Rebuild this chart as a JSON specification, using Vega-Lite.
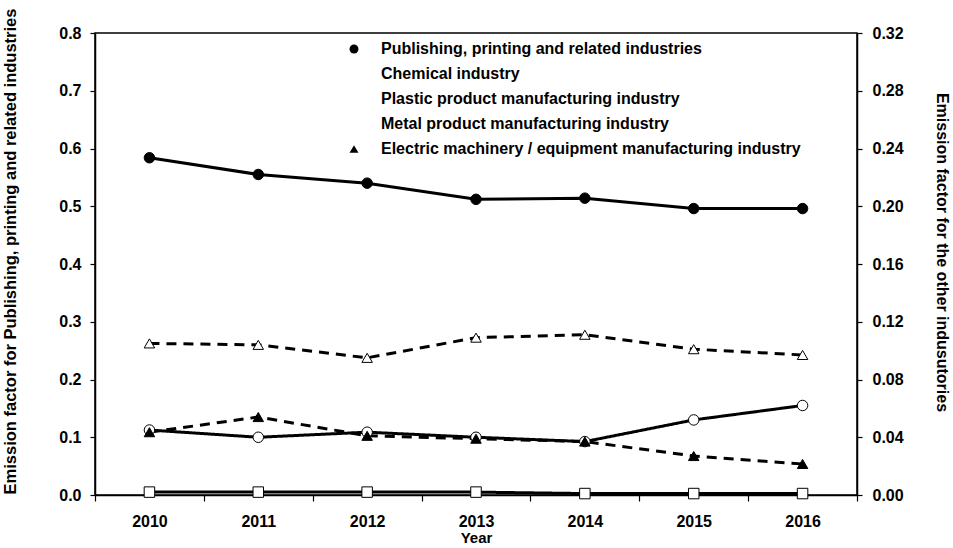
{
  "$schema": "https://vega.github.io/schema/vega-lite/v6.json",
  "width": 762,
  "height": 462,
  "autosize": "none",
  "padding": {"left": 95, "top": 33, "right": 96, "bottom": 53},
  "config": {
    "font": "Liberation Sans",
    "view": {"stroke": "black", "strokeWidth": 1.5},
    "axis": {
      "grid": false,
      "domainColor": "black",
      "domainWidth": 1.5,
      "tickColor": "black",
      "tickWidth": 1.2,
      "tickSize": 5,
      "labelFontSize": 16,
      "labelFontWeight": "bold",
      "labelColor": "black",
      "titleFontSize": 16,
      "titleFontWeight": "bold",
      "titleColor": "black",
      "labelOverlap": false
    },
    "legend": {
      "orient": "top-left",
      "offset": 8,
      "labelFontSize": 16,
      "labelFontWeight": "bold",
      "labelColor": "black",
      "labelLimit": 700,
      "symbolSize": 80,
      "symbolStrokeColor": "black",
      "symbolStrokeWidth": 1.5,
      "rowPadding": 9,
      "symbolOffset": 243,
      "labelOffset": 19,
      "padding": 0
    }
  },
  "data": {
    "values": [
      {"year": "2010", "series": "Publishing, printing and related industries", "value": 0.584},
      {"year": "2011", "series": "Publishing, printing and related industries", "value": 0.555},
      {"year": "2012", "series": "Publishing, printing and related industries", "value": 0.540},
      {"year": "2013", "series": "Publishing, printing and related industries", "value": 0.512},
      {"year": "2014", "series": "Publishing, printing and related industries", "value": 0.514},
      {"year": "2015", "series": "Publishing, printing and related industries", "value": 0.496},
      {"year": "2016", "series": "Publishing, printing and related industries", "value": 0.496},
      {"year": "2010", "series": "Chemical industry", "value": 0.002},
      {"year": "2011", "series": "Chemical industry", "value": 0.002},
      {"year": "2012", "series": "Chemical industry", "value": 0.002},
      {"year": "2013", "series": "Chemical industry", "value": 0.002},
      {"year": "2014", "series": "Chemical industry", "value": 0.001},
      {"year": "2015", "series": "Chemical industry", "value": 0.001},
      {"year": "2016", "series": "Chemical industry", "value": 0.001},
      {"year": "2010", "series": "Plastic product manufacturing industry", "value": 0.045},
      {"year": "2011", "series": "Plastic product manufacturing industry", "value": 0.040},
      {"year": "2012", "series": "Plastic product manufacturing industry", "value": 0.0435},
      {"year": "2013", "series": "Plastic product manufacturing industry", "value": 0.040},
      {"year": "2014", "series": "Plastic product manufacturing industry", "value": 0.037},
      {"year": "2015", "series": "Plastic product manufacturing industry", "value": 0.052},
      {"year": "2016", "series": "Plastic product manufacturing industry", "value": 0.062},
      {"year": "2010", "series": "Metal product manufacturing industry", "value": 0.105},
      {"year": "2011", "series": "Metal product manufacturing industry", "value": 0.104},
      {"year": "2012", "series": "Metal product manufacturing industry", "value": 0.095},
      {"year": "2013", "series": "Metal product manufacturing industry", "value": 0.109},
      {"year": "2014", "series": "Metal product manufacturing industry", "value": 0.111},
      {"year": "2015", "series": "Metal product manufacturing industry", "value": 0.101},
      {"year": "2016", "series": "Metal product manufacturing industry", "value": 0.097},
      {"year": "2010", "series": "Electric machinery / equipment manufacturing industry", "value": 0.0435},
      {"year": "2011", "series": "Electric machinery / equipment manufacturing industry", "value": 0.054},
      {"year": "2012", "series": "Electric machinery / equipment manufacturing industry", "value": 0.041},
      {"year": "2013", "series": "Electric machinery / equipment manufacturing industry", "value": 0.039},
      {"year": "2014", "series": "Electric machinery / equipment manufacturing industry", "value": 0.037},
      {"year": "2015", "series": "Electric machinery / equipment manufacturing industry", "value": 0.027},
      {"year": "2016", "series": "Electric machinery / equipment manufacturing industry", "value": 0.0215}
    ]
  },
  "encoding": {
    "x": {
      "field": "year",
      "type": "ordinal",
      "scale": {"type": "band", "paddingInner": 0, "paddingOuter": 0},
      "axis": {"title": "Year", "labelAngle": 0, "tickBand": "extent", "tickSize": 6, "labelPadding": 12, "titlePadding": 1, "titleFontSize": 15}
    }
  },
  "layer": [
    {
      "transform": [{"filter": "datum.series === 'Publishing, printing and related industries'"}],
      "encoding": {
        "y": {
          "field": "value",
          "type": "quantitative",
          "scale": {"domain": [0, 0.8]},
          "axis": {
            "orient": "left",
            "title": "Emission factor for Publishing, printing and related industries",
            "titleFontSize": 16.5,
            "titleY": 218,
            "values": [0, 0.1, 0.2, 0.3, 0.4, 0.5, 0.6, 0.7, 0.8],
            "format": ".1f",
            "labelPadding": 9,
            "titlePadding": 40
          }
        }
      },
      "layer": [
        {
          "mark": {"type": "line", "color": "black", "strokeWidth": 3},
          "encoding": {
            "detail": {"field": "series"}
          }
        },
        {
          "mark": {"type": "point", "filled": true, "stroke": "black", "strokeWidth": 1, "size": 110, "opacity": 1, "fill": "black"},
          "encoding": {}
        }
      ]
    },
    {
      "transform": [{"filter": "datum.series !== 'Publishing, printing and related industries'"}],
      "encoding": {
        "y": {
          "field": "value",
          "type": "quantitative",
          "scale": {"domain": [0, 0.32]},
          "axis": {
            "orient": "right",
            "title": "Emission factor for the other indusutories",
            "titleY": 219,
            "values": [0, 0.04, 0.08, 0.12, 0.16, 0.2, 0.24, 0.28, 0.32],
            "format": ".2f",
            "labelPadding": 10,
            "titlePadding": 30
          }
        }
      },
      "layer": [
        {
          "mark": {"type": "line", "color": "black", "strokeWidth": 3},
          "encoding": {
            "detail": {"field": "series"},
            "strokeDash": {
              "field": "series",
              "legend": null,
              "scale": {
                "domain": ["Chemical industry", "Plastic product manufacturing industry", "Metal product manufacturing industry", "Electric machinery / equipment manufacturing industry"],
                "range": [[1, 0], [1, 0], [10, 7], [10, 7]]
              }
            }
          }
        },
        {
          "mark": {"type": "point", "filled": true, "strokeWidth": 1, "size": 110, "opacity": 1},
          "encoding": {
            "stroke": {"value": "black"},
            "shape": {
              "field": "series",
              "title": null,
              "scale": {
                "domain": ["Publishing, printing and related industries", "Chemical industry", "Plastic product manufacturing industry", "Metal product manufacturing industry", "Electric machinery / equipment manufacturing industry"],
                "range": ["circle", "square", "circle", "triangle-up", "triangle-up"]
              }
            },
            "fill": {
              "field": "series",
              "title": null,
              "scale": {
                "domain": ["Publishing, printing and related industries", "Chemical industry", "Plastic product manufacturing industry", "Metal product manufacturing industry", "Electric machinery / equipment manufacturing industry"],
                "range": ["black", "white", "white", "white", "black"]
              }
            }
          }
        }
      ]
    }
  ],
  "resolve": {"scale": {"y": "independent"}}
}
